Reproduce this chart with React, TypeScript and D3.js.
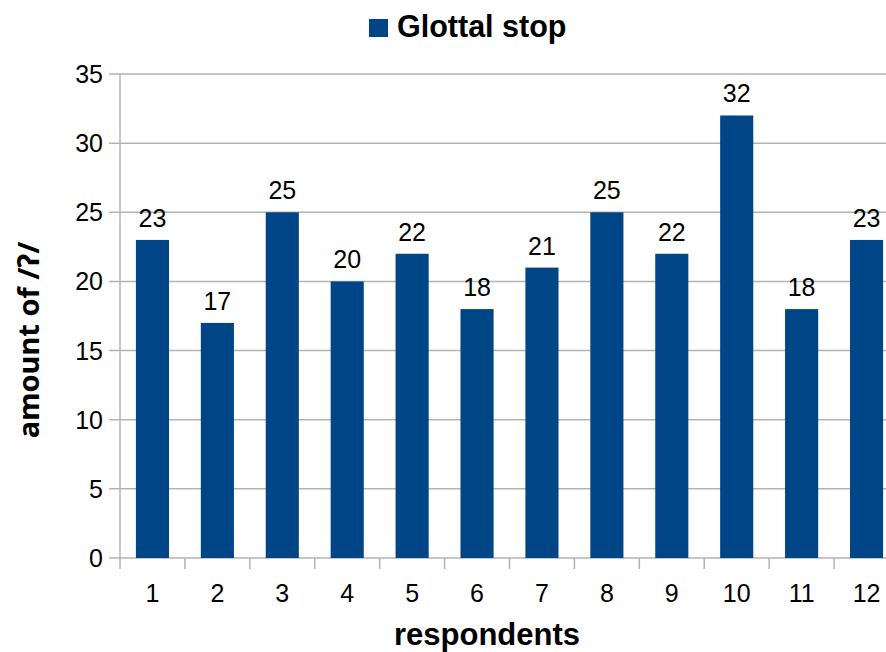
import React from "react";
import * as d3 from "d3";

const respondents = ["1", "2", "3", "4", "5", "6", "7", "8", "9", "10", "11", "12"];
const glottalStops = [23, 17, 25, 20, 22, 18, 21, 25, 22, 32, 18, 23];
const yTicks = [0, 5, 10, 15, 20, 25, 30, 35];
const seriesName = "Glottal stop";
const xTitle = "respondents";
const yTitle = "amount of /ʔ/";

const W = 886;
const H = 652;
const margin = { left: 120, top: 74, right: -13, bottom: 94 };
const BAR = "#004586";
const GRID = "#b3b3b3";
const FONT = "'Liberation Sans', Arial, sans-serif";

export default function App() {
  const x = d3
    .scaleBand<string>()
    .domain(respondents)
    .range([margin.left, W - margin.right])
    .paddingInner(0.49)
    .paddingOuter(0.245);
  const y = d3.scaleLinear().domain([0, 35]).range([H - margin.bottom, margin.top]);
  const step = x.step();
  const x0 = margin.left;
  const x1 = W - margin.right;
  const yb = y(0);

  return (
    <svg
      width={W}
      height={H}
      style={{ position: "absolute", left: 0, top: 0, background: "#fff" }}
      fontFamily={FONT}
    >
      {/* horizontal grid and y ticks */}
      {yTicks.map((t) => (
        <g key={t}>
          <line x1={x0 - 11} x2={x1} y1={y(t)} y2={y(t)} stroke={GRID} strokeWidth={1.5} />
          <text x={x0 - 17} y={y(t)} dy="0.36em" textAnchor="end" fontSize={25} fill="#000">
            {t}
          </text>
        </g>
      ))}
      {/* y axis */}
      <line x1={x0} x2={x0} y1={margin.top} y2={yb + 11} stroke={GRID} strokeWidth={1.5} />
      {/* category ticks between bands */}
      {respondents.map((_, i) => (
        <line
          key={i}
          x1={x0 + step * (i + 1)}
          x2={x0 + step * (i + 1)}
          y1={yb}
          y2={yb + 11}
          stroke={GRID}
          strokeWidth={1.5}
        />
      ))}
      {/* bars */}
      {glottalStops.map((v, i) => (
        <rect
          key={i}
          x={x(respondents[i])}
          y={y(v)}
          width={x.bandwidth()}
          height={yb - y(v)}
          fill={BAR}
        />
      ))}
      {/* value labels */}
      {glottalStops.map((v, i) => (
        <text
          key={i}
          x={(x(respondents[i]) as number) + x.bandwidth() / 2}
          y={y(v) - 13}
          textAnchor="middle"
          fontSize={25}
          fill="#000"
        >
          {v}
        </text>
      ))}
      {/* category labels */}
      {respondents.map((r) => (
        <text
          key={r}
          x={(x(r) as number) + x.bandwidth() / 2}
          y={yb + 44}
          textAnchor="middle"
          fontSize={25}
          fill="#000"
        >
          {r}
        </text>
      ))}
      {/* axis titles */}
      <text x={487} y={645} textAnchor="middle" fontSize={31} fontWeight="bold" fill="#000">
        {xTitle}
      </text>
      <text
        transform={`translate(39, 340) rotate(-90)`}
        textAnchor="middle"
        fontSize={29}
        fontWeight="bold"
        fontFamily="'Noto Sans', 'DejaVu Sans', sans-serif"
        fill="#000"
      >
        {yTitle}
      </text>
      {/* legend */}
      <rect x={369} y={19} width={19} height={18} fill={BAR} />
      <text x={397} y={37} fontSize={30.5} fontWeight="bold" fill="#000">
        {seriesName}
      </text>
    </svg>
  );
}
